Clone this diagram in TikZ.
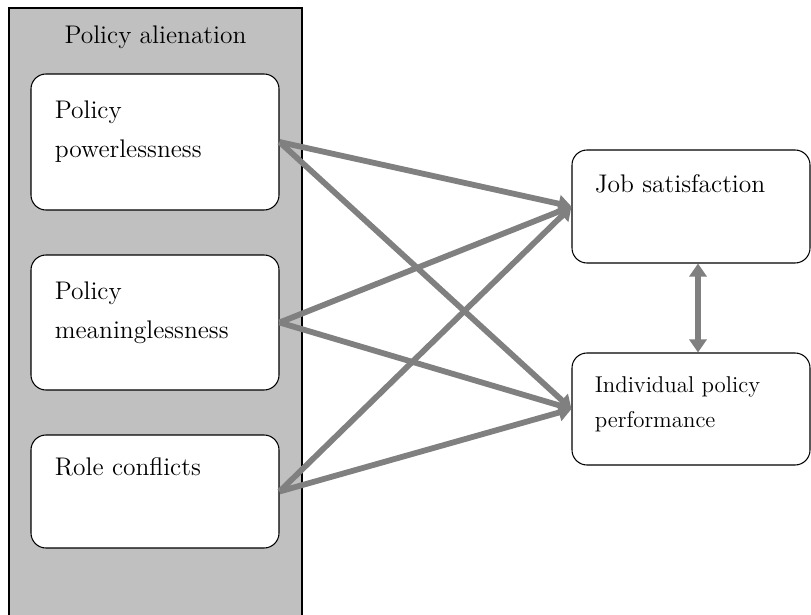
\documentclass[tikz,border=0pt]{standalone}
\usepackage{tikz}
\usepackage{xcolor}
\usetikzlibrary{arrows.meta, positioning, calc}
\definecolor{panelgray}{RGB}{192,192,192}
\definecolor{arrowgray}{RGB}{128,128,128}
\newcommand{\boxfont}{\fontsize{14.5}{22.2}\selectfont}

\begin{document}
\begin{tikzpicture}[
                        box/.style={draw, line width=0.6pt, rounded corners=0.3cm, fill=white, minimum width=4.96cm, inner sep=0pt},
                        txt/.style={anchor=north west, align=left, inner sep=0pt, font=\boxfont},
                        conn/.style={draw, color=arrowgray, line width=3.3pt},
                        arr/.style={-{Triangle[length=0.26cm, width=0.34cm]}}
                    ]
                        \useasboundingbox (0, 0) rectangle (16.22, -12.3);

                        \node[draw, line width=0.6pt, fill=panelgray, minimum width=5.86cm, minimum height=12.5cm, inner sep=0pt] (alien) at (3.11, -6.41) {};
                        \node[anchor=base, font=\boxfont] (title) at (3.11, -0.88) {Policy alienation};

                        \node[box, minimum height=2.72cm] (pp) at (3.1, -2.84) {};
                        \node[box, minimum height=2.7cm] (pm) at (3.1, -6.45) {};
                        \node[box, minimum height=2.26cm] (rc) at (3.1, -9.83) {};
                        \node[box, minimum width=4.76cm, minimum height=2.26cm] (js) at (13.82, -4.13) {};
                        \node[box, minimum width=4.76cm, minimum height=2.24cm] (ip) at (13.82, -8.18) {};

                        \node[txt] (pptxt) at ([shift={(0.48, -0.53)}]pp.north west) {Policy\\powerlessness};
                        \node[txt] (pmtxt) at ([shift={(0.48, -0.53)}]pm.north west) {Policy\\meaninglessness};
                        \node[txt] (rctxt) at ([shift={(0.48, -0.45)}]rc.north west) {Role conflicts};
                        \node[txt] (jstxt) at ([shift={(0.46, -0.49)}]js.north west) {Job satisfaction};
                        \node[txt, font=\fontsize{13}{19.9}\selectfont] (iptxt) at ([shift={(0.46, -0.47)}]ip.north west) {Individual policy\\performance};

                        \draw[conn]
                        (pp.east) edge[arr] (js.west)
                        (pp.east) edge[arr] (ip.west)
                        (pm.east) edge[arr] (js.west)
                        (pm.east) edge[arr] (ip.west)
                        (rc.east) edge[arr] (js.west)
                        (rc.east) edge[arr] (ip.west)
                        ([xshift=0.14cm]js.south) edge[{Triangle[length=0.26cm, width=0.34cm]}-{Triangle[length=0.26cm, width=0.34cm]}] ([xshift=0.14cm]ip.north);
                    \end{tikzpicture}
\end{document}
